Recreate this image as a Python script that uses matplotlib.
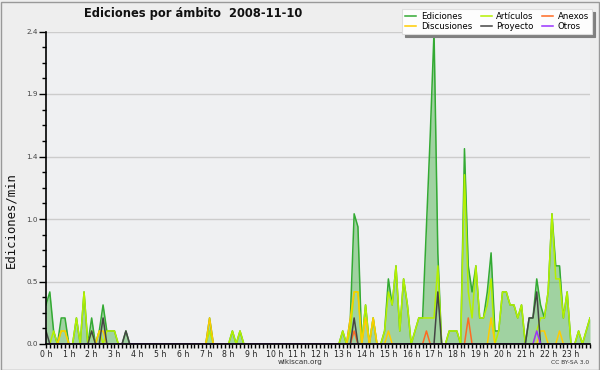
import matplotlib
matplotlib.use("Agg")
import matplotlib.pyplot as plt
from matplotlib.ticker import FixedLocator, MultipleLocator, FuncFormatter
from matplotlib.patches import Rectangle

# ---- data: edits per minute in 10-minute bins (6 per hour, 0 h .. 23 h) ----
hour_labels = [f"{h} h" for h in range(24)]

ediciones = [
    0.3, 0.4, 0.1, 0.0, 0.2, 0.2,   # 0 h
    0.0, 0.0, 0.2, 0.0, 0.4, 0.0,   # 1 h
    0.2, 0.0, 0.1, 0.3, 0.1, 0.1,   # 2 h
    0.1, 0.0, 0.0, 0.1, 0.0, 0.0,   # 3 h
    0.0, 0.0, 0.0, 0.0, 0.0, 0.0,   # 4 h
    0.0, 0.0, 0.0, 0.0, 0.0, 0.0,   # 5 h
    0.0, 0.0, 0.0, 0.0, 0.0, 0.0,   # 6 h
    0.0, 0.2, 0.0, 0.0, 0.0, 0.0,   # 7 h
    0.0, 0.1, 0.0, 0.1, 0.0, 0.0,   # 8 h
    0.0, 0.0, 0.0, 0.0, 0.0, 0.0,   # 9 h
    0.0, 0.0, 0.0, 0.0, 0.0, 0.0,   # 10 h
    0.0, 0.0, 0.0, 0.0, 0.0, 0.0,   # 11 h
    0.0, 0.0, 0.0, 0.0, 0.0, 0.0,   # 12 h
    0.1, 0.0, 0.2, 1.0, 0.9, 0.0,   # 13 h
    0.3, 0.0, 0.2, 0.0, 0.0, 0.1,   # 14 h
    0.5, 0.3, 0.6, 0.1, 0.5, 0.3,   # 15 h
    0.0, 0.1, 0.2, 0.2, 0.9, 1.6,   # 16 h
    2.4, 0.7, 0.0, 0.0, 0.1, 0.1,   # 17 h
    0.1, 0.0, 1.5, 0.6, 0.4, 0.6,   # 18 h
    0.2, 0.2, 0.4, 0.7, 0.1, 0.1,   # 19 h
    0.4, 0.4, 0.3, 0.3, 0.2, 0.3,   # 20 h
    0.0, 0.2, 0.2, 0.5, 0.3, 0.2,   # 21 h
    0.4, 1.0, 0.6, 0.6, 0.2, 0.4,   # 22 h
    0.0, 0.0, 0.1, 0.0, 0.1, 0.2,   # 23 h
]

articulos = [
    0.0, 0.0, 0.1, 0.0, 0.1, 0.1,
    0.0, 0.0, 0.2, 0.0, 0.4, 0.0,
    0.1, 0.0, 0.1, 0.0, 0.1, 0.1,
    0.1, 0.0, 0.0, 0.0, 0.0, 0.0,
    0.0, 0.0, 0.0, 0.0, 0.0, 0.0,
    0.0, 0.0, 0.0, 0.0, 0.0, 0.0,
    0.0, 0.0, 0.0, 0.0, 0.0, 0.0,
    0.0, 0.1, 0.0, 0.0, 0.0, 0.0,
    0.0, 0.1, 0.0, 0.1, 0.0, 0.0,
    0.0, 0.0, 0.0, 0.0, 0.0, 0.0,
    0.0, 0.0, 0.0, 0.0, 0.0, 0.0,
    0.0, 0.0, 0.0, 0.0, 0.0, 0.0,
    0.0, 0.0, 0.0, 0.0, 0.0, 0.0,
    0.1, 0.0, 0.1, 0.4, 0.4, 0.0,
    0.3, 0.0, 0.2, 0.0, 0.0, 0.1,
    0.4, 0.3, 0.6, 0.1, 0.5, 0.3,
    0.0, 0.1, 0.2, 0.2, 0.2, 0.2,
    0.2, 0.6, 0.0, 0.0, 0.1, 0.1,
    0.1, 0.0, 1.3, 0.4, 0.2, 0.6,
    0.2, 0.2, 0.3, 0.5, 0.0, 0.1,
    0.4, 0.4, 0.3, 0.3, 0.2, 0.3,
    0.0, 0.0, 0.0, 0.1, 0.2, 0.2,
    0.4, 1.0, 0.5, 0.5, 0.2, 0.4,
    0.0, 0.0, 0.1, 0.0, 0.1, 0.2,
]

anexos = [0.0] * 81 + [0.1] + [0.0] * 18 + [0.1] + [0.0] * 10 + [0.2] + [0.0] * 32

discusiones = [
    0.0, 0.0, 0.0, 0.0, 0.1, 0.1,
    0.0, 0.0, 0.0, 0.0, 0.0, 0.0,
    0.0, 0.0, 0.1, 0.1, 0.0, 0.0,
    0.0, 0.0, 0.0, 0.0, 0.0, 0.0,
    0.0, 0.0, 0.0, 0.0, 0.0, 0.0,
    0.0, 0.0, 0.0, 0.0, 0.0, 0.0,
    0.0, 0.0, 0.0, 0.0, 0.0, 0.0,
    0.0, 0.2, 0.0, 0.0, 0.0, 0.0,
    0.0, 0.0, 0.0, 0.0, 0.0, 0.0,
    0.0, 0.0, 0.0, 0.0, 0.0, 0.0,
    0.0, 0.0, 0.0, 0.0, 0.0, 0.0,
    0.0, 0.0, 0.0, 0.0, 0.0, 0.0,
    0.0, 0.0, 0.0, 0.0, 0.0, 0.0,
    0.0, 0.0, 0.2, 0.4, 0.4, 0.0,
    0.2, 0.0, 0.2, 0.0, 0.0, 0.0,
    0.1, 0.0, 0.0, 0.0, 0.0, 0.0,
    0.0, 0.0, 0.0, 0.0, 0.0, 0.0,
    0.0, 0.0, 0.0, 0.0, 0.0, 0.0,
    0.0, 0.0, 0.0, 0.0, 0.0, 0.0,
    0.0, 0.0, 0.0, 0.2, 0.0, 0.0,
    0.0, 0.0, 0.0, 0.0, 0.0, 0.0,
    0.0, 0.0, 0.0, 0.0, 0.1, 0.1,
    0.0, 0.0, 0.0, 0.1, 0.0, 0.0,
    0.0, 0.0, 0.0, 0.0, 0.0, 0.0,
]

proyecto = [
    0.1, 0.0, 0.0, 0.0, 0.0, 0.0,
    0.0, 0.0, 0.0, 0.0, 0.0, 0.0,
    0.1, 0.0, 0.0, 0.2, 0.0, 0.0,
    0.0, 0.0, 0.0, 0.1, 0.0, 0.0,
] + [0.0] * 54 + [
    0.0, 0.0, 0.0, 0.2, 0.0, 0.0,   # 13 h
    0.0, 0.0, 0.0, 0.0, 0.0, 0.0,   # 14 h
    0.0, 0.0, 0.0, 0.0, 0.0, 0.0,   # 15 h
    0.0, 0.0, 0.0, 0.0, 0.0, 0.0,   # 16 h
    0.0, 0.4, 0.0, 0.0, 0.0, 0.0,   # 17 h
    0.0, 0.0, 0.0, 0.0, 0.0, 0.0,   # 18 h
    0.0, 0.0, 0.0, 0.0, 0.0, 0.0,   # 19 h
    0.0, 0.0, 0.0, 0.0, 0.0, 0.0,   # 20 h
    0.0, 0.2, 0.2, 0.4, 0.0, 0.0,   # 21 h
    0.0, 0.0, 0.0, 0.0, 0.0, 0.0,   # 22 h
    0.0, 0.0, 0.0, 0.0, 0.0, 0.0,   # 23 h
]

otros = [0.0] * 129 + [0.1] + [0.0] * 14

# ---- styling ----
C_ED = "#33aa33"
C_ART = "#b4f000"
C_ANX = "#ff6a22"
C_DIS = "#ffcc00"
C_PRO = "#444444"
C_OTR = "#9933ff"

W, H = 600, 370
fig = plt.figure(figsize=(W / 100, H / 100), dpi=100, facecolor="#eeeeee")
ax = fig.add_axes([46 / W, 1 - 344 / H, 544 / W, (344 - 31.5) / H])
ax.set_facecolor("#eff0f2")

x = list(range(len(ediciones)))
ax.fill_between(x, 0, ediciones, color=C_ED, alpha=0.42, lw=0, zorder=2)
l_ed, = ax.plot(x, ediciones, color=C_ED, lw=1.1, zorder=3, label="Ediciones")
l_art, = ax.plot(x, articulos, color=C_ART, lw=1.1, zorder=4, label="Artículos")
l_anx, = ax.plot(x, anexos, color=C_ANX, lw=1.1, zorder=5, label="Anexos")
l_dis, = ax.plot(x, discusiones, color=C_DIS, lw=1.1, zorder=5, label="Discusiones")
l_pro, = ax.plot(x, proyecto, color=C_PRO, lw=1.1, zorder=6, label="Proyecto")
l_otr, = ax.plot(x, otros, color=C_OTR, lw=1.1, zorder=6, label="Otros")

ymax = max(ediciones)
ax.set_xlim(0, len(ediciones) - 1)
ax.set_ylim(0, ymax)

yt = [ymax * k / 5 for k in range(6)]
ax.yaxis.set_major_locator(FixedLocator(yt))
ax.yaxis.set_minor_locator(FixedLocator([ymax * k / 20 for k in range(21)]))
ax.yaxis.set_major_formatter(FuncFormatter(lambda v, p: f"{v:.1f}"))
ax.xaxis.set_major_locator(FixedLocator([6 * h for h in range(24)]))
ax.xaxis.set_minor_locator(MultipleLocator(1))
ax.set_xticklabels(hour_labels)

ax.grid(axis="y", which="major", color="#cccccc", lw=1.0, zorder=1)
ax.set_axisbelow(True)
for s in ("top", "right"):
    ax.spines[s].set_visible(False)
for s in ("left", "bottom"):
    ax.spines[s].set_color("black")
    ax.spines[s].set_linewidth(1.2)
    ax.spines[s].set_zorder(10)

ax.tick_params(axis="y", which="major", direction="out", length=5, width=1,
               labelsize=5.2, labelcolor="#444444", pad=1)
ax.tick_params(axis="y", which="minor", direction="out", length=3, width=1)
ax.tick_params(axis="x", which="both", direction="out", length=3, width=1,
               labelsize=5.6, labelcolor="#222222", pad=1)

fig.text(10.5 / W, 1 - 220 / H, "Ediciones/min", rotation=90, ha="center", va="center",
         fontsize=8.8, family="DejaVu Sans Mono", color="#111111")
fig.text(193 / W, 1 - 14 / H, "Ediciones por ámbito  2008-11-10", ha="center", va="center",
         fontsize=8.3, fontweight="bold", color="#111111")
fig.text(300 / W, 1 - 362 / H, "wikiscan.org", ha="center", va="center",
         fontsize=5.2, color="#333333")
fig.text(589 / W, 1 - 363 / H, "CC BY-SA 3.0", ha="right", va="center",
         fontsize=4.3, color="#333333")

leg = fig.legend(handles=[l_ed, l_dis, l_art, l_pro, l_anx, l_otr],
                 labels=["Ediciones", "Discusiones", "Artículos", "Proyecto", "Anexos", "Otros"],
                 ncol=3, loc="upper right", bbox_to_anchor=(592 / W, 1 - 9 / H),
                 fontsize=6.2, frameon=True, fancybox=False,
                 shadow={"color": "#808080", "alpha": 1.0, "ox": 2, "oy": -2},
                 handlelength=1.3, handletextpad=0.5, columnspacing=1.0,
                 labelspacing=0.1, borderpad=0.35, borderaxespad=0)
leg.get_frame().set_facecolor("#fdfdfd")
leg.get_frame().set_edgecolor("#dddddd")
leg.get_frame().set_linewidth(0.8)
leg.set_zorder(20)

fig.patches.append(Rectangle((0.5 / W, 0.5 / H), (W - 2) / W, (H - 2) / H,
                             transform=fig.transFigure, fill=False,
                             edgecolor="#999999", lw=1.0))

fig.savefig("out.png", dpi=100, facecolor=fig.get_facecolor())
